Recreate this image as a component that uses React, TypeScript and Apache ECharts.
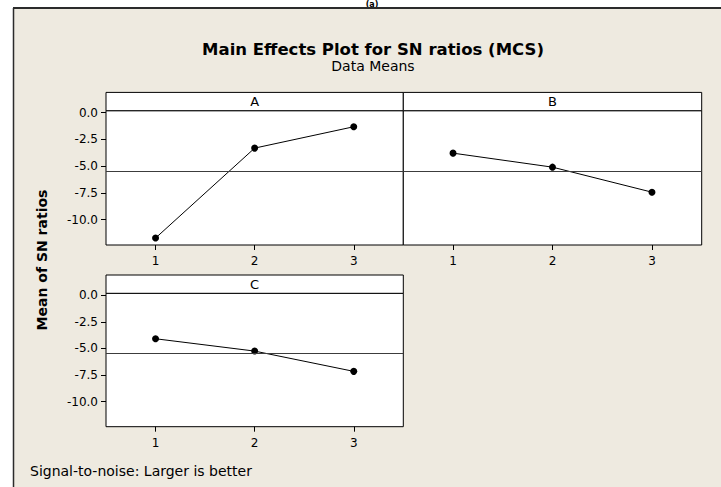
import React, { useEffect, useRef } from "react";
import * as echarts from "echarts";

const levels = ["1", "2", "3"];
const factorNames = ["A", "B", "C"];
const meansA = [-11.72, -3.31, -1.31];
const meansB = [-3.78, -5.09, -7.43];
const meansC = [-4.09, -5.25, -7.16];
const grandMean = -5.47;
const yTicks = [0, -2.5, -5, -7.5, -10];
const yMin = -12.37;
const yMax = 0.19;

const FONT = "DejaVu Sans";
const BG = "#EEEAE0";

const panels = [
  { left: 106, top: 110.7, width: 297.3, height: 134.3, showY: true },
  { left: 403.3, top: 110.7, width: 298.4, height: 134.3, showY: false },
  { left: 106, top: 293.3, width: 297.3, height: 133.4, showY: true },
];
const HEADER_H = 18.3;

export default function App() {
  const ref = useRef<HTMLDivElement>(null);
  useEffect(() => {
    if (!ref.current) return;
    const chart = echarts.init(ref.current, null, { renderer: "svg" });
    const series = [meansA, meansB, meansC];
    const option: any = {
      animation: false,
      backgroundColor: BG,
      grid: panels.map((p) => ({
        left: p.left,
        top: p.top,
        width: p.width,
        height: p.height,
        show: true,
        backgroundColor: "#ffffff",
        borderColor: "#000000",
        borderWidth: 1,
        containLabel: false,
      })),
      xAxis: panels.map((p, i) => ({
        type: "category",
        gridIndex: i,
        data: levels,
        boundaryGap: true,
        position: "bottom",
        axisLine: { show: false, onZero: false },
        axisTick: { show: true, alignWithLabel: true, length: 5, lineStyle: { color: "#000" } },
        axisLabel: { show: true, color: "#000", fontFamily: FONT, fontSize: 12, margin: 10 },
        splitLine: { show: false },
      })),
      yAxis: panels.map((p, i) => ({
        type: "value",
        gridIndex: i,
        min: yMin,
        max: yMax,
        axisLine: { show: false, onZero: false },
        axisTick: {
          show: p.showY,
          length: 5,
          customValues: yTicks,
          lineStyle: { color: "#000" },
        },
        axisLabel: {
          show: p.showY,
          customValues: yTicks,
          color: "#000",
          fontFamily: FONT,
          fontSize: 12,
          margin: 8,
          formatter: (v: number) => v.toFixed(1),
        },
        splitLine: { show: false },
      })),
      series: series.map((d, i) => ({
        type: "line",
        xAxisIndex: i,
        yAxisIndex: i,
        data: d,
        symbol: "circle",
        symbolSize: 7,
        itemStyle: { color: "#000" },
        lineStyle: { color: "#000", width: 1 },
        markLine: {
          silent: true,
          symbol: "none",
          label: { show: false },
          lineStyle: { color: "#3c3c3c", width: 1, type: "solid" },
          data: [{ yAxis: grandMean }],
        },
      })),
      graphic: [
        { type: "rect", shape: { x: 0, y: 0, width: 721, height: 8 }, style: { fill: "#ffffff" }, z: 0 },
        { type: "rect", shape: { x: 0, y: 0, width: 13, height: 487 }, style: { fill: "#ffffff" }, z: 0 },
        {
          type: "text",
          x: 372,
          y: 0,
          style: { text: "(a)", font: `bold 8px ${FONT}`, fill: "#000", textAlign: "center", textVerticalAlign: "top" },
        },
        { type: "line", shape: { x1: 13, y1: 8, x2: 721, y2: 8 }, style: { stroke: "#2b2b2b", lineWidth: 2 } },
        { type: "line", shape: { x1: 13.5, y1: 8, x2: 13.5, y2: 487 }, style: { stroke: "#2b2b2b", lineWidth: 1.5 } },
        {
          type: "text",
          x: 373,
          y: 49,
          style: {
            text: "Main Effects Plot for SN ratios (MCS)",
            font: `bold 16.5px ${FONT}`,
            fill: "#000",
            textAlign: "center",
            textVerticalAlign: "middle",
          },
        },
        {
          type: "text",
          x: 373,
          y: 66,
          style: { text: "Data Means", font: `14px ${FONT}`, fill: "#000", textAlign: "center", textVerticalAlign: "middle" },
        },
        {
          type: "text",
          x: 42,
          y: 260,
          rotation: Math.PI / 2,
          style: {
            text: "Mean of SN ratios",
            font: `bold 14px ${FONT}`,
            fill: "#000",
            textAlign: "center",
            textVerticalAlign: "middle",
          },
        },
        {
          type: "text",
          x: 30,
          y: 471,
          style: {
            text: "Signal-to-noise: Larger is better",
            font: `14px ${FONT}`,
            fill: "#000",
            textAlign: "left",
            textVerticalAlign: "middle",
          },
        },
        ...panels.flatMap((p, i) => [
          {
            type: "rect",
            shape: { x: p.left, y: p.top - HEADER_H, width: p.width, height: HEADER_H },
            style: { fill: "#ffffff", stroke: "#000", lineWidth: 1 },
          },
          {
            type: "text",
            x: p.left + p.width / 2,
            y: p.top - HEADER_H / 2,
            style: {
              text: factorNames[i],
              font: `13px ${FONT}`,
              fill: "#000",
              textAlign: "center",
              textVerticalAlign: "middle",
            },
          },
        ]),
      ],
    };
    chart.setOption(option);
    return () => chart.dispose();
  }, []);
  return (
    <div
      ref={ref}
      style={{ position: "fixed", left: 0, top: 0, width: 721, height: 487 }}
    />
  );
}
